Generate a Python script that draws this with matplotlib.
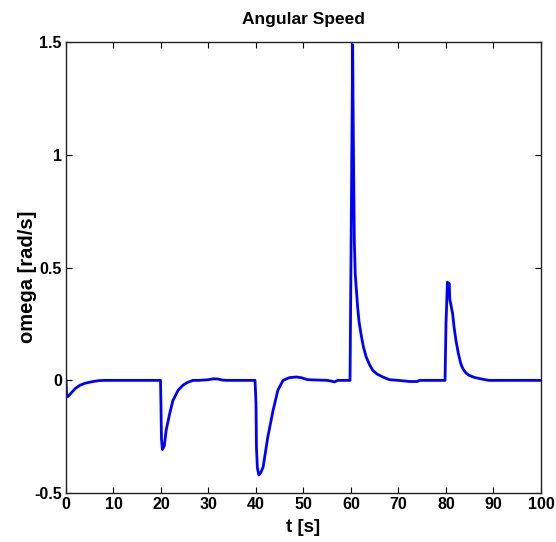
import matplotlib
matplotlib.use("Agg")
import matplotlib.pyplot as plt
from matplotlib import font_manager

# angular speed response
t = [0, 0.15, 0.4, 1, 2, 3, 4, 5, 6, 7, 8,
     19.9, 20.0, 20.1, 20.3, 20.7, 21.1, 21.8, 22.5, 23.6, 24.6, 25.5, 26.7,
     28, 30, 31, 32, 33, 34,
     39.8, 40.0, 40.1, 40.3, 40.6, 41.0, 41.5, 42.5, 43.6, 44.6, 45.7,
     47, 48.5, 49.5, 50.9, 55, 56, 56.5, 57.2,
     59.8, 60.35, 60.5, 60.7, 60.9, 61.4, 61.7, 62.1, 62.6, 63.2, 63.9, 64.6,
     65.5, 66.7, 67.5, 68.1, 70, 72.3, 73.9, 74.5,
     79.8, 80.0, 80.3, 80.5, 80.7, 80.8, 81.4, 81.7, 82.1, 82.6, 83.1, 83.6,
     84.2, 84.9, 86, 87.3, 89,
     100]
omega = [0, -0.07, -0.072, -0.058, -0.035, -0.021, -0.013, -0.008, -0.004, -0.001, 0,
         0, -0.12, -0.26, -0.307, -0.29, -0.22, -0.15, -0.09, -0.044, -0.022, -0.01, 0,
         0, 0.003, 0.007, 0.006, 0.001, 0,
         0, -0.1, -0.3, -0.39, -0.42, -0.41, -0.385, -0.25, -0.133, -0.044, 0,
         0.012, 0.015, 0.012, 0.003, 0, -0.004, -0.007, 0,
         0, 1.49, 1.07, 0.62, 0.47, 0.325, 0.26, 0.207, 0.15, 0.104, 0.07, 0.044,
         0.028, 0.015, 0.008, 0.003, 0, -0.005, -0.005, 0,
         0, 0.25, 0.436, 0.425, 0.43, 0.36, 0.296, 0.237, 0.177, 0.12, 0.075, 0.05,
         0.033, 0.022, 0.013, 0.007, 0,
         0]

x_ticks = [0, 10, 20, 30, 40, 50, 60, 70, 80, 90, 100]
y_ticks = [-0.5, 0, 0.5, 1, 1.5]
y_tick_labels = ['-0.5', '0', '0.5', '1', '1.5']

names = {f.name for f in font_manager.fontManager.ttflist}
font = 'Liberation Sans Narrow' if 'Liberation Sans Narrow' in names else 'Liberation Sans'
plt.rcParams['font.family'] = [font, 'DejaVu Sans']
plt.rcParams['font.weight'] = 'bold'

fig = plt.figure(figsize=(5.56, 5.42), dpi=100)
ax = fig.add_axes([0.1187, 0.0904, 0.8543, 0.8312])

ax.plot(t, omega, color='blue', linewidth=2.0)

ax.set_xlim(0, 100)
ax.set_ylim(-0.5, 1.5)
ax.set_xticks(x_ticks)
ax.set_yticks(y_ticks)
ax.set_yticklabels(y_tick_labels)
ax.tick_params(direction='in', length=4.5, width=0.8, top=True, right=True,
               labelsize=11.5, pad=3, colors='black')
for s in ax.spines.values():
    s.set_linewidth(1.0)
    s.set_color('#222222')

ax.set_title('Angular Speed', fontsize=12.5, fontweight='bold', pad=13)
ax.set_xlabel('t [s]', fontsize=13.5, fontweight='bold', labelpad=5)
ax.set_ylabel('omega [rad/s]', fontsize=14.5, fontweight='bold')
ax.yaxis.set_label_coords(-0.06, 0.48)

fig.savefig('out.png', dpi=100)
